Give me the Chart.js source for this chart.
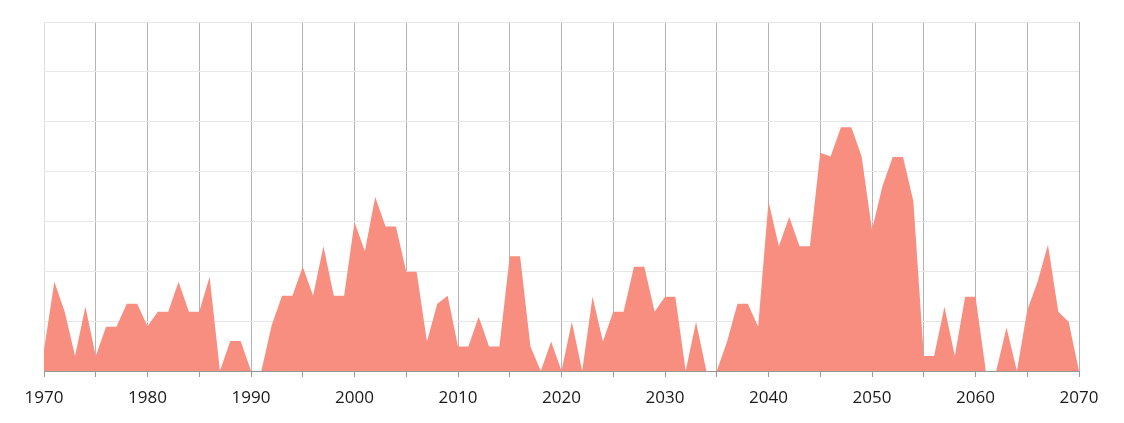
<!DOCTYPE html>
<html>
<head>
<meta charset="utf-8">
<script src="https://cdn.jsdelivr.net/npm/chart.js@4.4.1/dist/chart.umd.min.js"></script>
<style>
  html, body { margin: 0; padding: 0; background: #fff; }
  #wrap { width: 1124px; height: 423px; }
</style>
</head>
<body>
<div id="wrap"><canvas id="areaChart"></canvas></div>
<script>
// years on the x axis
const years = [
  1970, 1971, 1972, 1973, 1974, 1975, 1976, 1977, 1978, 1979,
  1980, 1981, 1982, 1983, 1984, 1985, 1986, 1987, 1988, 1989,
  1990, 1991, 1992, 1993, 1994, 1995, 1996, 1997, 1998, 1999,
  2000, 2001, 2002, 2003, 2004, 2005, 2006, 2007, 2008, 2009,
  2010, 2011, 2012, 2013, 2014, 2015, 2016, 2017, 2018, 2019,
  2020, 2021, 2022, 2023, 2024, 2025, 2026, 2027, 2028, 2029,
  2030, 2031, 2032, 2033, 2034, 2035, 2036, 2037, 2038, 2039,
  2040, 2041, 2042, 2043, 2044, 2045, 2046, 2047, 2048, 2049,
  2050, 2051, 2052, 2053, 2054, 2055, 2056, 2057, 2058, 2059,
  2060, 2061, 2062, 2063, 2064, 2065, 2066, 2067, 2068, 2069,
  2070
];

// values (one unit = one horizontal grid line)
const values = [
  0.42, 1.79, 1.19, 0.30, 1.29, 0.30, 0.89, 0.89, 1.35, 1.35,
  0.90, 1.19, 1.19, 1.79, 1.19, 1.19, 1.89, 0,    0.60, 0.60,
  0,    0,    0.92, 1.51, 1.51, 2.09, 1.51, 2.50, 1.51, 1.51,
  2.99, 2.40, 3.49, 2.90, 2.90, 1.99, 1.99, 0.59, 1.35, 1.51,
  0.49, 0.49, 1.09, 0.49, 0.49, 2.30, 2.30, 0.49, 0,    0.59,
  0,    0.99, 0,    1.49, 0.59, 1.19, 1.19, 2.09, 2.09, 1.19,
  1.49, 1.49, 0,    0.99, 0,    0,    0.59, 1.35, 1.35, 0.89,
  3.40, 2.50, 3.09, 2.50, 2.50, 4.38, 4.30, 4.89, 4.89, 4.30,
  2.83, 3.70, 4.29, 4.29, 3.40, 0.30, 0.30, 1.29, 0.30, 1.49,
  1.49, 0,    0,    0.87, 0,    1.22, 1.79, 2.53, 1.19, 0.99,
  0
];

const xMin = 1970, xMax = 2070, xStep = 5, labelStep = 10;
const yMax = 7;

const ctx = document.getElementById('areaChart');
new Chart(ctx, {
  type: 'line',
  data: {
    datasets: [{
      data: years.map((y, i) => ({ x: y, y: values[i] })),
      fill: 'origin',
      backgroundColor: '#f78e80',
      borderWidth: 0,
      pointRadius: 0,
      tension: 0
    }]
  },
  options: {
    responsive: true,
    maintainAspectRatio: false,
    animation: false,
    layout: { padding: { left: 44, right: 45, top: 22, bottom: 0 } },
    plugins: { legend: { display: false }, tooltip: { enabled: false } },
    scales: {
      x: {
        type: 'linear',
        min: xMin,
        max: xMax,
        afterFit: scale => { scale.height = 52; },
        ticks: {
          stepSize: xStep,
          autoSkip: false,
          maxRotation: 0,
          color: '#1a1a1a',
          font: { family: 'Open Sans', size: 17 },
          padding: 11,
          callback: v => (v % labelStep === 0 ? String(v) : '')
        },
        grid: {
          color: c => (c.tick && c.tick.value === xMin ? '#dedede' : '#b4b4b4'),
          tickColor: '#999',
          tickLength: 6,
          drawOnChartArea: true
        },
        border: { color: '#999', width: 1 }
      },
      y: {
        min: 0,
        max: yMax,
        ticks: { display: false, stepSize: 1 },
        grid: { color: '#e8e8e8', drawTicks: false },
        border: { display: false }
      }
    }
  }
});
</script>
</body>
</html>
